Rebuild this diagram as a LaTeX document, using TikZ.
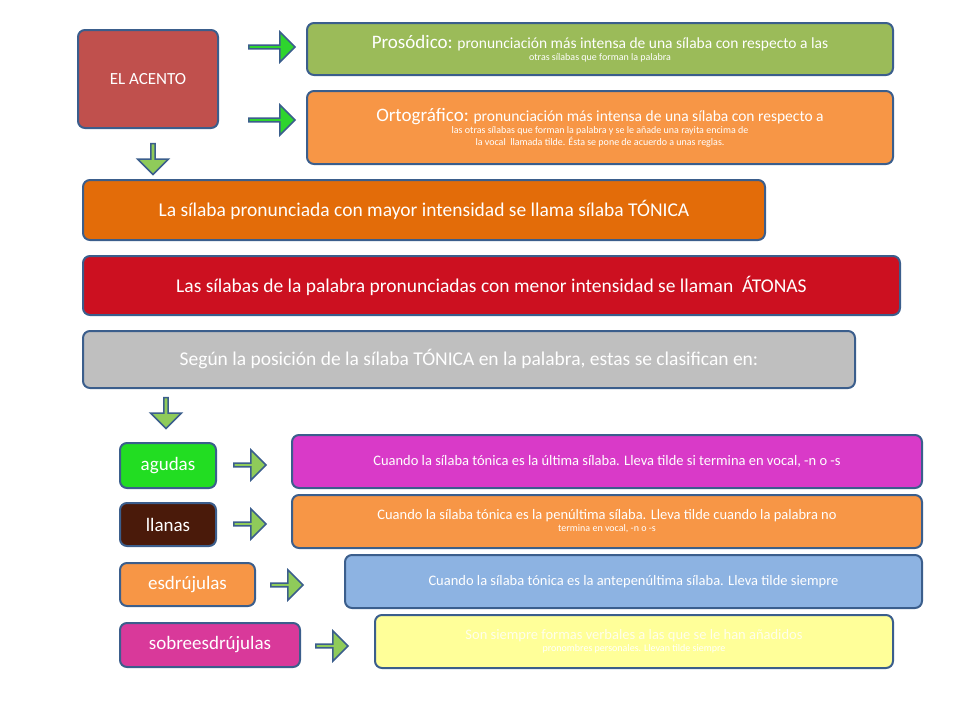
\documentclass[tikz,border=0pt]{standalone}
\usepackage{fontspec}
\setmainfont{Carlito}
\usetikzlibrary{shapes.arrows}
\definecolor{bd}{HTML}{3B5E8C}
\definecolor{cAcento}{HTML}{C0504D}
\definecolor{cPros}{HTML}{9BBB59}
\definecolor{cOrto}{HTML}{F79646}
\definecolor{cTon}{HTML}{E36C09}
\definecolor{cAton}{HTML}{CC1020}
\definecolor{cSeg}{HTML}{BFBFBF}
\definecolor{cAgu}{HTML}{22DD22}
\definecolor{cLla}{HTML}{4A1A0A}
\definecolor{cMag}{HTML}{D93AC8}
\definecolor{cSob}{HTML}{D9399A}
\definecolor{cBlue}{HTML}{8DB3E2}
\definecolor{cYel}{HTML}{FFFF99}
\definecolor{gArr}{HTML}{2ED42E}
\definecolor{lArr}{HTML}{8FCB5A}
\tikzset{
  box/.style={draw=bd,line width=2pt,rounded corners=7pt,text=white,align=center,inner sep=0pt},
  arr/.style={single arrow,draw=bd,line width=1.5pt,inner sep=0pt,single arrow head extend=5pt,anchor=center},
}
\newcommand{\bx}[6]{\node[box,fill=#5,minimum width={#3-#1},minimum height={#4-#2}] (#6) at ({(#1+#3)/2},{(#2+#4)/2})}
\begin{document}
\begin{tikzpicture}[x=1pt,y=-1pt]
\useasboundingbox (0,0) rectangle (960,720);
\bx{78}{30}{218}{128}{cAcento}{acento} {\fontsize{17}{20}\selectfont EL ACENTO};
\bx{307}{23}{893}{75}{cPros}{pros} {\fontsize{15.5}{22}\selectfont {\fontsize{19}{22}\selectfont Prosódico:} pronunciación más intensa de una sílaba con respecto a las\\ otras sílabas que forman la palabra};
\bx{307}{91}{893}{164}{cOrto}{orto} {\fontsize{15.5}{22}\selectfont {\fontsize{19}{22}\selectfont Ortográfico:} pronunciación más intensa de una sílaba con respecto a\\ las otras sílabas que forman la palabra y se le añade una rayita encima de\\ la vocal\ \ llamada tilde. Ésta se pone de acuerdo a unas reglas.};
\bx{83}{180}{765}{240}{cTon}{tonica} {\fontsize{19.5}{22}\selectfont La sílaba pronunciada con mayor intensidad se llama sílaba TÓNICA};
\bx{83}{256}{900}{315}{cAton}{atonas} {\fontsize{19.5}{22}\selectfont Las sílabas de la palabra pronunciadas con menor intensidad se llaman\ \ ÁTONAS};
\bx{83}{331}{855}{388}{cSeg}{segun} {\fontsize{19.5}{22}\selectfont Según la posición de la sílaba TÓNICA en la palabra, estas se clasifican en:};
\bx{120}{443}{216}{488}{cAgu}{agudas} {\fontsize{19}{22}\selectfont agudas};
\bx{120}{503}{216}{546}{cLla}{llanas} {\fontsize{19}{22}\selectfont llanas};
\bx{120}{563}{255}{606}{cOrto}{esdr} {\fontsize{19}{22}\selectfont esdrújulas};
\bx{120}{623}{300}{667}{cSob}{sobre} {\fontsize{19}{22}\selectfont sobreesdrújulas};
\bx{292}{435}{922}{488}{cMag}{dAgu} {\fontsize{14.5}{20}\selectfont Cuando la sílaba tónica es la última sílaba. Lleva tilde si termina en vocal, -n o -s};
\bx{292}{495}{922}{548}{cOrto}{dLla} {\fontsize{14.5}{20}\selectfont Cuando la sílaba tónica es la penúltima sílaba. Lleva tilde cuando la palabra no\\ termina en vocal, -n o -s};
\bx{345}{555}{922}{608}{cBlue}{dEsd} {\fontsize{14.5}{20}\selectfont Cuando la sílaba tónica es la antepenúltima sílaba. Lleva tilde siempre};
\bx{375}{615}{893}{668}{cYel}{dSob} {\color{white!92!yellow}\fontsize{14.5}{20}\selectfont Son siempre formas verbales a las que se le han añadidos\\ pronombres personales. Llevan tilde siempre};
% arrows
\node[arr,fill=gArr,minimum height=46,minimum width=30] (a1) at (271,47) {};
\node[arr,fill=gArr,minimum height=46,minimum width=30] (a2) at (271,120) {};
\node[arr,fill=lArr,minimum height=31,minimum width=31,shape border rotate=270] (a3) at (153,158) {};
\node[arr,fill=lArr,minimum height=31,minimum width=31,shape border rotate=270] (a4) at (166,412) {};
\node[arr,fill=lArr,minimum height=32,minimum width=30] (a5) at (249,465) {};
\node[arr,fill=lArr,minimum height=32,minimum width=30] (a6) at (249,524) {};
\node[arr,fill=lArr,minimum height=32,minimum width=30] (a7) at (286,585) {};
\node[arr,fill=lArr,minimum height=32,minimum width=30] (a8) at (331,646) {};
\end{tikzpicture}
\end{document}
